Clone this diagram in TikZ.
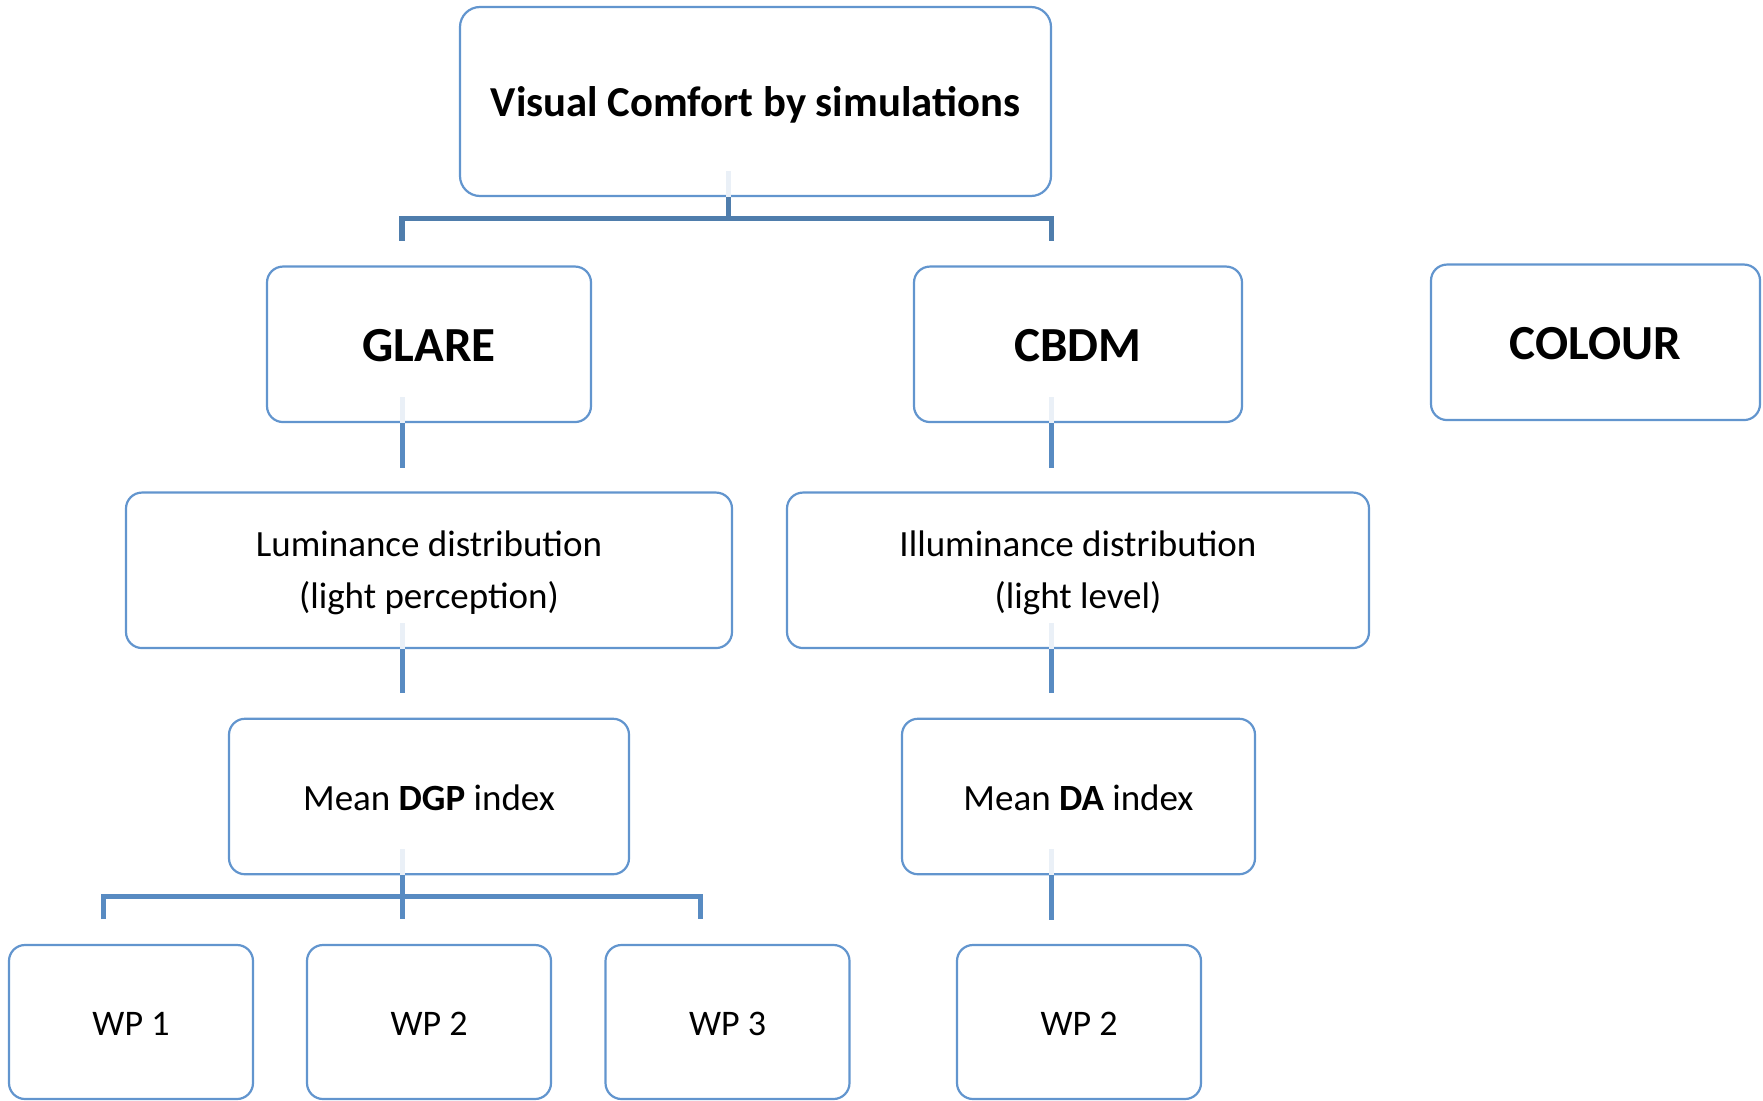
\documentclass[tikz,border=0pt]{standalone}
\usepackage{fontspec}
\setmainfont{Carlito}
\usepackage{tikz}
\definecolor{boxline}{RGB}{98,149,206}
\definecolor{topline}{RGB}{79,125,172}
\definecolor{subline}{RGB}{88,139,194}
\definecolor{ghost}{RGB}{234,240,247}

\begin{document}
\begin{tikzpicture}[x=1pt,y=1pt]
\tikzstyle{every node}+=[inner sep=0pt]
\tikzstyle{box}=[draw=boxline, line width=2.2pt, rounded corners=16pt, align=center, minimum height=155.5pt, text height=27pt, text depth=0pt, font=\fontsize{37}{52}\selectfont]
\tikzstyle{twoline}=[box, text height=85.6pt, text depth=9pt]
\tikzstyle{head}=[box, text height=33.4pt, font=\fontsize{49}{58}\selectfont\bfseries]
\tikzstyle{wp}=[box, minimum width=244pt, minimum height=154pt, text height=26pt, font=\fontsize{36}{50}\selectfont]
\tikzstyle{trunk}=[topline, line width=5.6pt]
\tikzstyle{branch}=[subline, line width=5pt]
\tikzstyle{faint}=[ghost, line width=5pt]
\useasboundingbox (0,0) rectangle (1763,-1100);
\coordinate (lx) at (402,0);
\coordinate (rx) at (1051.5,0);
\coordinate (topfork) at (728.5,-218.5);
\coordinate (glaretip) at (402,-240.5);
\coordinate (cbdmtip) at (1051.5,-240.5);
\coordinate (dgpfork) at (402,-896.5);
\coordinate (wpatip) at (103.5,-919);
\coordinate (wpbtip) at (402,-919);
\coordinate (wpctip) at (700.5,-919);
\node [box, rounded corners=20pt, minimum width=591pt, minimum height=189pt, text height=30.4pt, font=\fontsize{42.7}{50}\selectfont\bfseries] (top) at (755.5,-101.5) {Visual Comfort by simulations};
\node [head, minimum width=324pt] (glare) at (429,-344.3) {GLARE};
\node [head, minimum width=328pt] (cbdm) at (1078,-344.3) {CBDM};
\node [head, minimum width=329pt] (colour) at (1595.5,-342.3) {COLOUR};
\node [twoline, minimum width=606pt] (lum) at (429,-570.3) {Luminance distribution\\(light perception)};
\node [twoline, minimum width=582pt] (illum) at (1078,-570.3) {Illuminance distribution\\(light level)};
\node [box, minimum width=400pt] (dgp) at (429,-796.5) {Mean \textbf{DGP} index};
\node [box, minimum width=353pt] (da) at (1078.5,-796.5) {Mean \textbf{DA} index};
\node [wp] (wpa) at (131,-1022) {WP 1};
\node [wp] (wpb) at (429,-1022) {WP 2};
\node [wp] (wpc) at (727.5,-1022) {WP 3};
\node [wp] (wpd) at (1079,-1022) {WP 2};
\draw [faint] (top.south -| topfork) -- ++(0,26);
\draw [trunk] (top.south -| topfork) -- (topfork);
\draw [trunk] (glaretip) |- (topfork) -| (cbdmtip);
\draw [faint] (glare.south -| lx) -- ++(0,26);
\draw [branch] (glare.south -| lx) -- ++(0,-45);
\draw [faint] (cbdm.south -| rx) -- ++(0,26);
\draw [branch] (cbdm.south -| rx) -- ++(0,-45);
\draw [faint] (lum.south -| lx) -- ++(0,26);
\draw [branch] (lum.south -| lx) -- ++(0,-44);
\draw [faint] (illum.south -| rx) -- ++(0,26);
\draw [branch] (illum.south -| rx) -- ++(0,-44);
\draw [faint] (dgp.south -| dgpfork) -- ++(0,26);
\draw [branch] (dgp.south -| dgpfork) -- (wpbtip);
\draw [branch] (wpatip) |- (dgpfork) -| (wpctip);
\draw [faint] (da.south -| rx) -- ++(0,26);
\draw [branch] (da.south -| rx) -- ++(0,-45);
\end{tikzpicture}
\end{document}
